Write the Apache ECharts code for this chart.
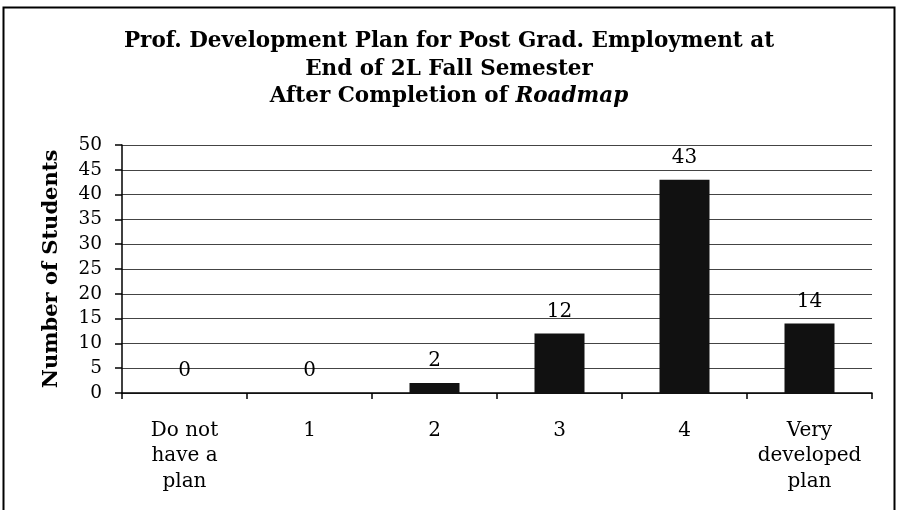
<!DOCTYPE html>
<html>
<head>
<meta charset="utf-8">
<script src="https://cdn.jsdelivr.net/npm/echarts@6/dist/echarts.min.js"></script>
<style>
html,body{margin:0;padding:0;background:#fff;}
#chart{width:898px;height:510px;}
</style>
</head>
<body>
<div id="chart"></div>
<script>
var categories = ["Do not\nhave a\nplan", "1", "2", "3", "4", "Very\ndeveloped\nplan"];
var values = [0, 0, 2, 12, 43, 14];
var yTitle = "Number of Students";
var titleLines = ["Prof. Development Plan for Post Grad. Employment at", "End of 2L Fall Semester", "After Completion of {i|Roadmap}"];

var serif = "DejaVu Serif";
var chart = echarts.init(document.getElementById('chart'));
chart.setOption({
  animation: false,
  backgroundColor: '#fff',
  title: {
    text: titleLines.join('\n'),
    left: 'center',
    top: 28,
    padding: 0,
    textStyle: {
      fontFamily: serif, fontWeight: 'bold', fontSize: 21.5, color: '#000', lineHeight: 27.5,
      rich: { i: { fontFamily: serif, fontWeight: 'bold', fontStyle: 'italic', fontSize: 21.5, color: '#000', lineHeight: 27.5 } }
    }
  },
  graphic: [
    { type: 'rect', shape: { x: 3.5, y: 7.5, width: 891, height: 520 }, style: { fill: 'none', stroke: '#000', lineWidth: 2 }, silent: true }
  ],
  grid: { left: 122, right: 26, top: 145, bottom: 117, containLabel: false },
  xAxis: {
    type: 'category',
    data: categories,
    axisLine: { lineStyle: { color: '#000', width: 1.5 } },
    axisTick: { show: true, interval: 0, length: 6, lineStyle: { color: '#000', width: 1.5 } },
    axisLabel: { interval: 0, fontFamily: serif, fontSize: 20, color: '#000', lineHeight: 25.5, margin: 25 }
  },
  yAxis: {
    type: 'value',
    min: 0, max: 50, interval: 5,
    name: yTitle,
    nameLocation: 'middle',
    nameGap: 60,
    nameTextStyle: { fontFamily: serif, fontWeight: 'bold', fontSize: 21, color: '#000' },
    axisLine: { show: true, lineStyle: { color: '#000', width: 1.5 } },
    axisTick: { show: true, length: 7, lineStyle: { color: '#000', width: 1.5 } },
    axisLabel: { fontFamily: serif, fontSize: 18.5, color: '#000', margin: 20 },
    splitLine: { show: true, lineStyle: { color: '#444', width: 1 } }
  },
  series: [{
    type: 'bar',
    data: values,
    barWidth: '40%',
    itemStyle: { color: '#111' },
    label: { show: true, position: 'top', distance: 12, fontFamily: serif, fontSize: 20, color: '#000' }
  }]
});
</script>
</body>
</html>
